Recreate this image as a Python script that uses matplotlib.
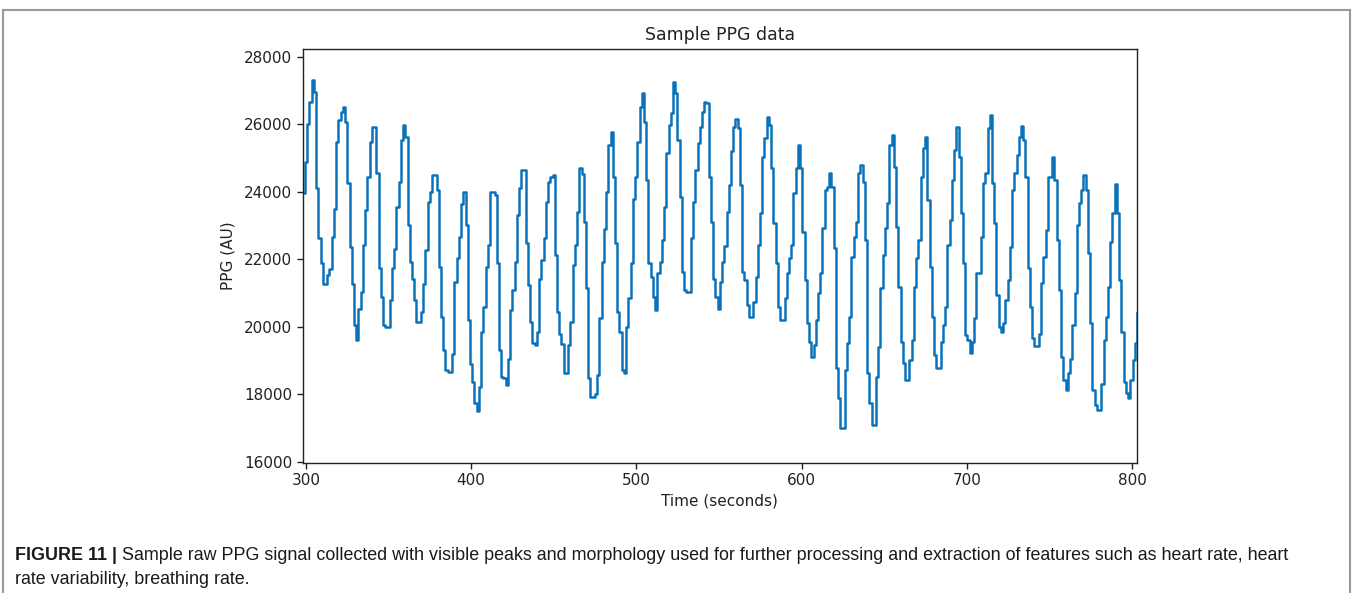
import numpy as np
import matplotlib
matplotlib.use("Agg")
import matplotlib.pyplot as plt
from matplotlib.lines import Line2D

# ---------------- data ----------------
T_START = 298.1          # seconds, first sample
DT = 1.35                # seconds between samples
X_TICKS = [300, 400, 500, 600, 700, 800]
Y_TICKS = [16000, 18000, 20000, 22000, 24000, 26000, 28000]

ppg = [
    23950, 24890, 26000, 26660, 27300, 26960, 24100, 22620, 21880, 21280,
    21280, 21530, 21700, 22670, 23500, 25480, 26120, 26370, 26520, 26070,
    24250, 22370, 21280, 20050, 19600, 20540, 21040, 22420, 23460, 24440,
    25480, 25920, 25920, 24570, 21730, 20890, 20050, 20000, 20000, 20790,
    21730, 22300, 23560, 24300, 25530, 25975, 25630, 23010, 21930, 21430,
    20790, 20150, 20150, 20440, 21280, 22270, 23700, 24000, 24500, 24500,
    24050, 21780, 20300, 19310, 18720, 18650, 18650, 19200, 21330, 22030,
    22670, 23650, 24000, 23010, 20200, 18910, 18370, 17730, 17500, 18220,
    19850, 20590, 21780, 22420, 24000, 24000, 23900, 21880, 19310, 18520,
    18470, 18270, 19060, 20490, 21090, 21930, 23310, 24100, 24640, 24640,
    22470, 21230, 20150, 19510, 19460, 19850, 21430, 21980, 22620, 23700,
    24300, 24440, 24490, 22120, 20440, 19800, 19500, 18620, 18620, 19460,
    20150, 21830, 22420, 23410, 24690, 24540, 23110, 21140, 18470, 17925,
    17925, 18020, 18570, 20250, 21930, 22910, 24000, 25380, 25780, 24440,
    22470, 20440, 19850, 18720, 18620, 20000, 20840, 21880, 23800, 24440,
    25480, 26520, 26920, 26070, 24350, 21880, 21480, 20890, 20500, 21580,
    21930, 22570, 23560, 25140, 25975, 26320, 27260, 26915, 25530, 23850,
    21630, 21090, 21040, 21040, 22620, 23700, 24640, 25430, 25920, 26370,
    26670, 26620, 24440, 23110, 21430, 20890, 20540, 21330, 21930, 22400,
    23410, 24200, 25200, 25920, 26170, 25880, 24200, 21630, 21380, 20640,
    20300, 20300, 20740, 21480, 22420, 23360, 25040, 25580, 26220, 25980,
    24690, 23060, 21880, 20590, 20200, 20200, 20840, 21580, 22030, 22420,
    23950, 24690, 25384, 24690, 22815, 21380, 20100, 19560, 19110, 19460,
    20200, 20990, 21580, 22915, 24050, 24150, 24545, 24150, 22320, 18770,
    17880, 17000, 17000, 18720, 19510, 20300, 22075, 22670, 23110, 24545,
    24790, 24300, 22570, 18620, 17730, 17100, 17100, 18520, 19410, 21140,
    22125, 22915, 23655, 25384, 25680, 24740, 22965, 21190, 19560, 18915,
    18420, 18420, 19010, 19605, 21190, 22025, 22570, 24445, 25300, 25630,
    23755, 21780, 20300, 19160, 18770, 18770, 19560, 20050, 20590, 22420,
    23160, 24350, 25240, 25910, 25040, 23360, 21880, 19755, 19600, 19210,
    19560, 20250, 21580, 21580, 22670, 24250, 24545, 25880, 26270, 24250,
    23060, 20940, 20000, 19850, 20100, 20790, 21380, 22370, 24050, 24545,
    25090, 25630, 25947, 25530, 24445, 21730, 20590, 19655, 19430, 19430,
    19800, 21285, 22075, 22865, 24445, 24445, 25019, 24350, 22570, 21090,
    19110, 18420, 18125, 18620, 19060, 20050, 20990, 23010, 23655, 24050,
    24494, 24050, 22175, 20100, 18125, 17680, 17530, 17530, 18300, 19605,
    20300, 21190, 22520, 23360, 24228, 23360, 21380, 19850, 18370, 18025,
    17880, 18420, 19010, 19510, 20400,
]

TITLE = "Sample PPG data"
XLABEL = "Time (seconds)"
YLABEL = "PPG (AU)"
CAPTION_BOLD = "FIGURE 11 |"
CAPTION_1 = (" Sample raw PPG signal collected with visible peaks and morphology used "
             "for further processing and extraction of features such as heart rate, heart")
CAPTION_2 = "rate variability, breathing rate."

# ---------------- figure ----------------
W, H = 1354, 593
fig = plt.figure(figsize=(W / 100, H / 100), dpi=100)
fig.patch.set_facecolor("white")

ax = fig.add_axes([302.7 / W, 1 - 462.5 / H, (1137 - 302.7) / W, (462.5 - 49.3) / H])
t = T_START + DT * np.arange(len(ppg))
ax.step(t, ppg, where="post", color="#0a72ba", lw=1.8)

ax.set_xlim(t[0], t[-1])
ax.set_ylim(15980, 28220)
ax.set_xticks(X_TICKS)
ax.set_yticks(Y_TICKS)
ax.tick_params(labelsize=11, length=4, width=1, colors="#222222")
for s in ax.spines.values():
    s.set_linewidth(1.0)
    s.set_color("#222222")
ax.set_title(TITLE, fontsize=12.5, pad=7, color="#222222")
ax.set_xlabel(XLABEL, fontsize=11, labelpad=4, color="#222222")
ax.set_ylabel(YLABEL, fontsize=11, labelpad=6, color="#222222")

# outer frame of the figure panel
frame_kw = dict(color="#9a9a9a", lw=1.5, transform=fig.transFigure)
fig.add_artist(Line2D([3 / W, 1350 / W], [1 - 10 / H, 1 - 10 / H], **frame_kw))
fig.add_artist(Line2D([3 / W, 3 / W], [0, 1 - 10 / H], **frame_kw))
fig.add_artist(Line2D([1350 / W, 1350 / W], [0, 1 - 10 / H], **frame_kw))

# caption
cap_font = ["Liberation Sans Narrow", "Liberation Sans", "DejaVu Sans"]
CAP_SIZE = 12.9
tb = fig.text(15 / W, 1 - 555 / H, CAPTION_BOLD, fontsize=CAP_SIZE, fontweight="bold",
              family=cap_font, va="center", ha="left", color="#1a1a1a")
fig.canvas.draw()
bb = tb.get_window_extent(fig.canvas.get_renderer())
fig.text(bb.x1 / W, 1 - 555 / H, CAPTION_1, fontsize=CAP_SIZE, family=cap_font,
         va="center", ha="left", color="#1a1a1a")
fig.text(15 / W, 1 - 579 / H, CAPTION_2, fontsize=CAP_SIZE, family=cap_font,
         va="center", ha="left", color="#1a1a1a")

fig.savefig("out.png", dpi=100, facecolor="white")
